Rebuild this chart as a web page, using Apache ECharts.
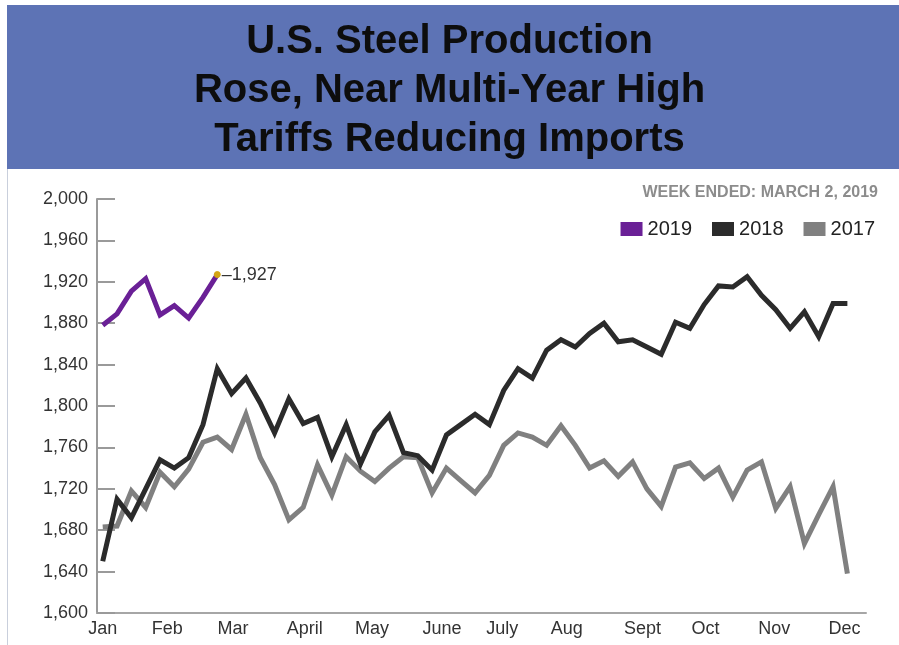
<!DOCTYPE html>
<html>
<head>
<meta charset="utf-8">
<title>U.S. Steel Production</title>
<script src="https://cdn.jsdelivr.net/npm/echarts@6/dist/echarts.min.js"></script>
<style>
    html, body { margin: 0; padding: 0; background: #fff; }
    #chart { width: 899px; height: 645px; }
</style>
</head>
<body>
<div id="chart"></div>
<script>
(function () {
    'use strict';

    // weekly production, thousands of net tons
    var prod2019 = [1878, 1889, 1911, 1923, 1888, 1897, 1885, 1905, 1927];
    var prod2018 = [1650, 1710, 1692, 1720, 1748, 1740, 1750, 1782, 1836, 1812,
        1827, 1803, 1774, 1807, 1783, 1789, 1751, 1782, 1744, 1775,
        1791, 1755, 1752, 1738, 1772, 1782, 1792, 1782, 1815, 1836,
        1827, 1854, 1864, 1857, 1870, 1880, 1862, 1864, 1857, 1850,
        1881, 1875, 1898, 1916, 1915, 1925, 1907, 1893, 1875, 1891,
        1867, 1899, 1899];
    var prod2017 = [1683, 1684, 1718, 1702, 1736, 1722, 1739, 1765, 1770, 1758,
        1792, 1750, 1724, 1690, 1702, 1743, 1714, 1751, 1737, 1727,
        1740, 1751, 1750, 1716, 1740, 1728, 1716, 1733, 1762, 1774,
        1770, 1762, 1781, 1762, 1740, 1747, 1732, 1746, 1720, 1703,
        1741, 1745, 1730, 1740, 1712, 1738, 1746, 1701, 1722, 1667,
        1695, 1722, 1638];

    // month labels and where they sit, in weeks from the first week
    var monthLabels = ['Jan', 'Feb', 'Mar', 'April', 'May', 'June', 'July', 'Aug', 'Sept', 'Oct', 'Nov', 'Dec'];
    var monthWeeks = [0, 4.5, 9.1, 14.1, 18.8, 23.7, 27.9, 32.4, 37.7, 42.1, 46.9, 51.8];

    var seriesNames = ['2019', '2018', '2017'];
    var seriesColors = ['#6a2096', '#2b2b2b', '#808080'];

    var monthAt = {};
    monthWeeks.forEach(function (w, i) {
        monthAt[Math.round(w * 10)] = monthLabels[i];
    });

    function toPairs(arr) {
        return arr.map(function (v, i) { return [i, v]; });
    }

    function comma(v) {
        return String(v).replace(/\B(?=(\d{3})+(?!\d))/g, ',');
    }

    // last 2019 point gets the dot and the value label
    var data2019 = toPairs(prod2019);
    var last = data2019.length - 1;
    data2019[last] = {
        value: data2019[last],
        symbol: 'circle',
        symbolSize: 6,
        itemStyle: { color: '#d4a514', borderColor: '#d4a514' },
        label: {
            show: true,
            position: 'right',
            distance: 1,
            fontFamily: 'Liberation Sans, Arial, sans-serif',
            fontSize: 18,
            color: '#333',
            formatter: function (p) { return '\u2013' + comma(p.value[1]); }
        }
    };

    var chart = echarts.init(document.getElementById('chart'));

    var option = {
        animation: false,
        textStyle: { fontFamily: 'Liberation Sans, Arial, sans-serif' },
        graphic: [
            {
                type: 'rect',
                z: -1,
                shape: { x: 7.5, y: 168.5, width: 900, height: 500 },
                style: { fill: '#fff', stroke: '#c9cfdc', lineWidth: 1 }
            },
            {
                type: 'rect',
                z: 0,
                shape: { x: 7, y: 5, width: 892, height: 164 },
                style: { fill: '#5d73b5' }
            },
            {
                type: 'text',
                right: 21,
                top: 185,
                style: {
                    text: 'WEEK ENDED: MARCH 2, 2019',
                    fill: '#8c8c8c',
                    font: 'bold 16px "Liberation Sans", Arial, sans-serif'
                }
            }
        ],
        title: {
            text: 'U.S. Steel Production\nRose, Near Multi-Year High\nTariffs Reducing Imports',
            left: 'center',
            top: 12,
            textStyle: {
                fontFamily: 'Liberation Sans, Arial, sans-serif',
                fontSize: 40,
                fontWeight: 'bold',
                lineHeight: 49,
                align: 'center',
                color: '#0d0d0d'
            }
        },
        legend: {
            data: seriesNames,
            right: 19,
            top: 214,
            icon: 'rect',
            itemWidth: 22,
            itemHeight: 14,
            itemGap: 20,
            textStyle: { fontSize: 20, color: '#222' }
        },
        grid: { left: 97, right: 33, top: 199, bottom: 32 },
        xAxis: {
            type: 'value',
            min: -0.4,
            max: 53.3,
            interval: 0.1,
            axisLine: { show: true, onZero: false, lineStyle: { color: '#a6a6a6', width: 2 } },
            axisTick: { show: false },
            splitLine: { show: false },
            axisLabel: {
                margin: 7,
                fontSize: 18,
                color: '#333',
                showMinLabel: false,
                showMaxLabel: false,
                formatter: function (v) {
                    return monthAt[Math.round(v * 10)] || '';
                }
            }
        },
        yAxis: {
            type: 'value',
            min: 1600,
            max: 2000,
            interval: 40,
            axisLine: { show: true, onZero: false, lineStyle: { color: '#9a9a9a', width: 2 } },
            axisTick: { show: true, inside: true, length: 18, lineStyle: { color: '#9a9a9a', width: 2 } },
            splitLine: { show: false },
            axisLabel: {
                margin: 9,
                fontSize: 18,
                color: '#333',
                formatter: comma
            }
        },
        series: [
            {
                name: '2017',
                type: 'line',
                symbol: 'none',
                data: toPairs(prod2017),
                itemStyle: { color: seriesColors[2] },
                lineStyle: { color: seriesColors[2], width: 5, join: 'miter' },
                z: 2
            },
            {
                name: '2018',
                type: 'line',
                symbol: 'none',
                data: toPairs(prod2018),
                itemStyle: { color: seriesColors[1] },
                lineStyle: { color: seriesColors[1], width: 5, join: 'miter' },
                z: 3
            },
            {
                name: '2019',
                type: 'line',
                symbol: 'none',
                data: data2019,
                itemStyle: { color: seriesColors[0] },
                lineStyle: { color: seriesColors[0], width: 5, join: 'miter' },
                z: 4
            }
        ]
    };

    chart.setOption(option);
    window.onresize = function () {
        chart.resize();
    };
})();
</script>
</body>
</html>
